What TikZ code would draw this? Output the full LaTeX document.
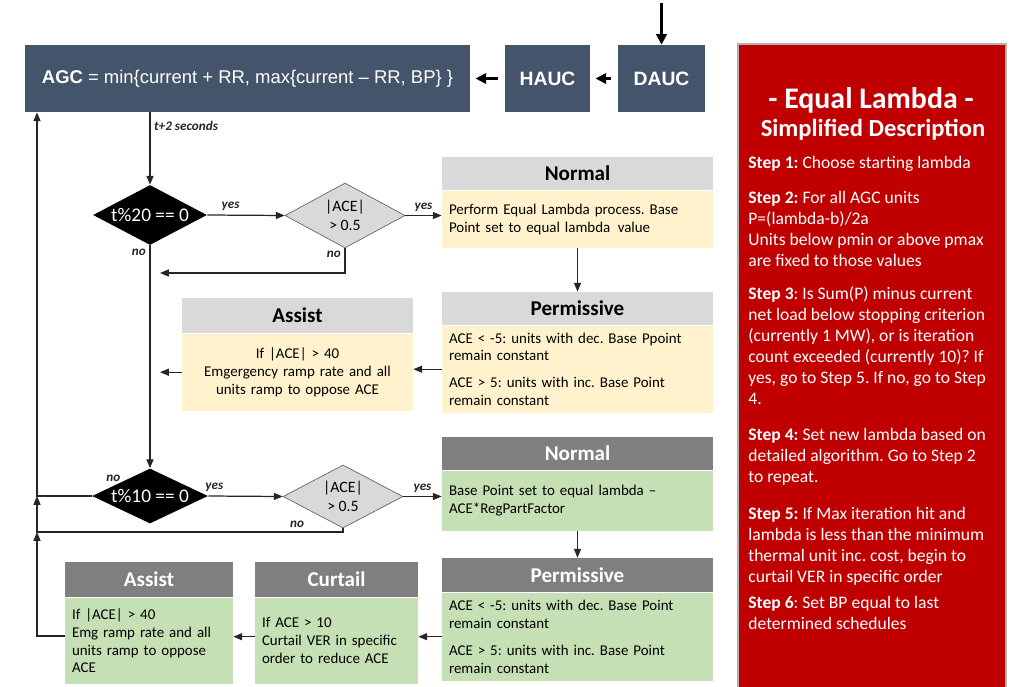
\documentclass[tikz,border=0pt]{standalone}
\usepackage{fontspec}
\setmainfont{Carlito}
\newfontfamily\arialf{Liberation Sans}
\usetikzlibrary{shapes.geometric}
\usetikzlibrary{positioning}
\usetikzlibrary{arrows.meta}
\definecolor{slate}{HTML}{44546A}
\definecolor{panelred}{HTML}{C00000}
\definecolor{hdrgray}{HTML}{D9D9D9}
\definecolor{hdrdk}{HTML}{7F7F7F}
\definecolor{paleyel}{HTML}{FFF2CC}
\definecolor{palegrn}{HTML}{C5E0B4}
\frenchspacing
\tikzset{
    slatebox/.style = {rectangle, fill=slate, text=white, align=center, inner sep=0pt, font=\arialf\fontsize{10.5}{12}\selectfont},
    redpanel/.style = {rectangle, fill=panelred, draw=gray!60, line width=1pt, inner sep=0pt},
    redtext/.style = {inner sep=0pt, align=left, text=white, anchor=north west, font=\fontsize{10}{12}\selectfont},
    decblack/.style = {diamond, fill=black, inner sep=0pt, label={[text=white, font=\fontsize{11}{12}\selectfont]center:#1}},
    decgray/.style = {diamond, fill=hdrgray, draw=black!60, thin, inner sep=0pt, label={[align=center, font=\fontsize{9}{11}\selectfont]center:#1}},
    hdrlight/.style = {rectangle, fill=hdrgray, inner sep=0pt, font=\bfseries\fontsize{12}{14}\selectfont},
    hdrdark/.style = {rectangle, fill=hdrdk, text=white, inner sep=0pt, font=\bfseries\fontsize{12}{14}\selectfont},
    bodyyellow/.style = {rectangle, fill=paleyel, anchor=north, inner xsep=4pt, inner ysep=0pt, align=left, font=\fontsize{8.5}{10.2}\selectfont},
    bodygreen/.style = {rectangle, fill=palegrn, anchor=north, inner xsep=4pt, inner ysep=0pt, align=left, font=\fontsize{8.5}{10.2}\selectfont},
    edgen/.style = {-{Triangle[length=5pt,width=4pt]}, line width=0.7pt, black!85},
    edgebig/.style = {-{Triangle[length=6pt,width=6pt]}, line width=1.6pt, black},
    lbl/.style = {inner sep=2pt, font=\bfseries\itshape\fontsize{7.5}{9}\selectfont}
}

\begin{document}
\begin{tikzpicture}[x=0.02cm,y=-0.02cm]
\useasboundingbox (0,0) rectangle (1023,686);

% top row
\node[slatebox, minimum width=8.9cm, minimum height=1.34cm] at (247.5,78.5) (agc) {\textbf{AGC} = min\{current + RR, max\{current – RR, BP\} \}};
\node[slatebox, minimum width=1.7cm, minimum height=1.34cm, font=\arialf\bfseries\fontsize{11}{13}\selectfont] at (547.5,78.5) (hauc) {HAUC};
\node[slatebox, minimum width=1.74cm, minimum height=1.34cm, font=\arialf\bfseries\fontsize{11}{13}\selectfont] at (661.5,78.5) (dauc) {DAUC};
\coordinate (top) at (661.5,3);

\draw[edgebig] (top) -- (dauc.north);
\draw[edgebig, line width=1.2pt, shorten <=4pt, shorten >=3pt] (dauc) -- (hauc);
\draw[edgebig, line width=1.2pt, shorten <=4pt, shorten >=3pt] (hauc) -- (agc);

% red description panel
\node[redpanel, minimum width=5.36cm, minimum height=12.9cm, anchor=north west] at (737,43) (panel) {};
\node[text=white, font=\bfseries\fontsize{17}{20}\selectfont] at (871,100) (ttl) {- Equal Lambda -};
\node[text=white, font=\bfseries\fontsize{14}{17}\selectfont] at (873,130) (sub) {Simplified Description};
\node[redtext] at (748,156) (s1) {\textbf{Step 1:} Choose starting lambda};
\node[redtext] at (748,191) (s2) {\textbf{Step 2:} For all AGC units\\P=(lambda-b)/2a\\Units below pmin or above pmax\\are fixed to those values};
\node[redtext] at (748,286) (s3) {\textbf{Step 3}: Is Sum(P) minus current\\net load below stopping criterion\\(currently 1 MW), or is iteration\\count exceeded (currently 10)? If\\yes, go to Step 5. If no, go to Step\\4.};
\node[redtext] at (748,428) (s4) {\textbf{Step 4:} Set new lambda based on\\detailed algorithm. Go to Step 2\\to repeat.};
\node[redtext] at (748,507) (s5) {\textbf{Step 5:} If Max iteration hit and\\lambda is less than the minimum\\thermal unit inc. cost, begin to\\curtail VER in specific order};
\node[redtext] at (748,596) (s6) {\textbf{Step 6}: Set BP equal to last\\determined schedules};

% every 20 seconds
\node[decblack={t\%20 == 0}, minimum width=2.28cm, minimum height=1.2cm] at (150,215) (d1) {};
\node[decgray={|ACE|\\> 0.5}, minimum width=2.4cm, minimum height=1.3cm] at (345,215.5) (d2) {};
\node[hdrlight, minimum width=5.42cm, minimum height=0.66cm] at (577.5,173.5) (n1h) {Normal};
\node[bodyyellow, text width=5.14cm, minimum height=1.14cm] at (n1h.south) (n1b) {Perform Equal Lambda process. Base\\Point set to equal lambda\enspace value};
\node[hdrlight, minimum width=5.42cm, minimum height=0.66cm] at (577.5,308.5) (p1h) {Permissive};
\node[bodyyellow, text width=5.14cm, minimum height=1.74cm] at (p1h.south) (p1b) {ACE < -5: units with dec. Base Ppoint\\remain constant\\[5pt]ACE > 5: units with inc. Base Point\\remain constant};
\node[hdrlight, minimum width=4.62cm, minimum height=0.7cm] at (297.5,315.5) (a1h) {Assist};
\node[bodyyellow, text width=4.34cm, minimum height=1.54cm, align=center] at (a1h.south) (a1b) {If |ACE| > 40\\Emgergency ramp rate and all\\units ramp to oppose ACE};
\coordinate (j1) at (160,273);

\draw[edgen] (agc.south -| d1.north) -- node[lbl, pos=0.19, right] {t+2 seconds} (d1.north);
\draw[edgen] (d1.east) -- node[lbl, above, pos=0.3] {yes} (d2.west);
\draw[edgen] (d2.east) -- node[lbl, above] {yes} (d2.east -| n1b.west);
\draw[edgen] (d2.south) |- node[lbl, pos=0.12, left] {no} (j1);
\draw[edgen] (n1b.south) -- (p1h.north);
\draw[edgen] (p1b.west) -- (p1b.west -| a1b.east);
\draw[edgen] (a1b.west) -- (a1b.west -| j1);

% every 10 seconds
\node[decblack={t\%10 == 0}, minimum width=2.32cm, minimum height=1.1cm] at (150,496) (d3) {};
\node[decgray={|ACE|\\> 0.5}, minimum width=2.4cm, minimum height=1.26cm] at (343,496.5) (d4) {};
\node[hdrdark, minimum width=5.42cm, minimum height=0.66cm] at (577.5,453.5) (n2h) {Normal};
\node[bodygreen, text width=5.14cm, minimum height=1.2cm] at (n2h.south) (n2b) {Base Point set to equal lambda --\\ACE*RegPartFactor};
\node[hdrdark, minimum width=5.42cm, minimum height=0.68cm] at (577.5,575) (p2h) {Permissive};
\node[bodygreen, text width=5.14cm, minimum height=1.76cm] at (p2h.south) (p2b) {ACE < -5: units with dec. Base Point\\remain constant\\[5pt]ACE > 5: units with inc. Base Point\\remain constant};
\node[hdrdark, minimum width=3.26cm, minimum height=0.7cm] at (336.5,579.5) (ch) {Curtail};
\node[bodygreen, text width=2.98cm, minimum height=1.72cm] at (ch.south) (cb) {If ACE > 10\\Curtail VER in specific\\order to reduce ACE};
\node[hdrdark, minimum width=3.36cm, minimum height=0.7cm] at (149,579.5) (a2h) {Assist};
\node[bodygreen, text width=3.08cm, minimum height=1.72cm] at (a2h.south) (a2b) {If |ACE| > 40\\Emg ramp rate and all\\units ramp to oppose\\ACE};
\coordinate (l1) at (37,496);
\coordinate (l2) at (37,532);
\coordinate (l3) at (37,636);

\draw[edgen] (d1.south) -- node[lbl, pos=0.03, left] {no} (d3.north);
\draw[edgen] (d3.east) -- node[lbl, above, pos=0.08] {yes} (d4.west);
\draw[edgen] (d4.east) -- node[lbl, above] {yes} (d4.east -| n2b.west);
\draw[edgen] (d4.south) |- node[lbl, pos=0.575, above] {no} (l2) -- (l1);
\draw[edgen] (d3.west) -- node[lbl, pos=0, above right, xshift=6pt, yshift=6pt] {no} (l1) -- (l1 |- agc.south);
\draw[edgen] (n2b.south) -- (p2h.north);
\draw[edgen] (p2b.west) -- (p2b.west -| cb.east);
\draw[edgen] (cb.west |- p2b.west) -- (p2b.west -| a2b.east);
\draw[edgen] (a2b.west |- l3) -- (l3) -- (l2);

\end{tikzpicture}
\end{document}
